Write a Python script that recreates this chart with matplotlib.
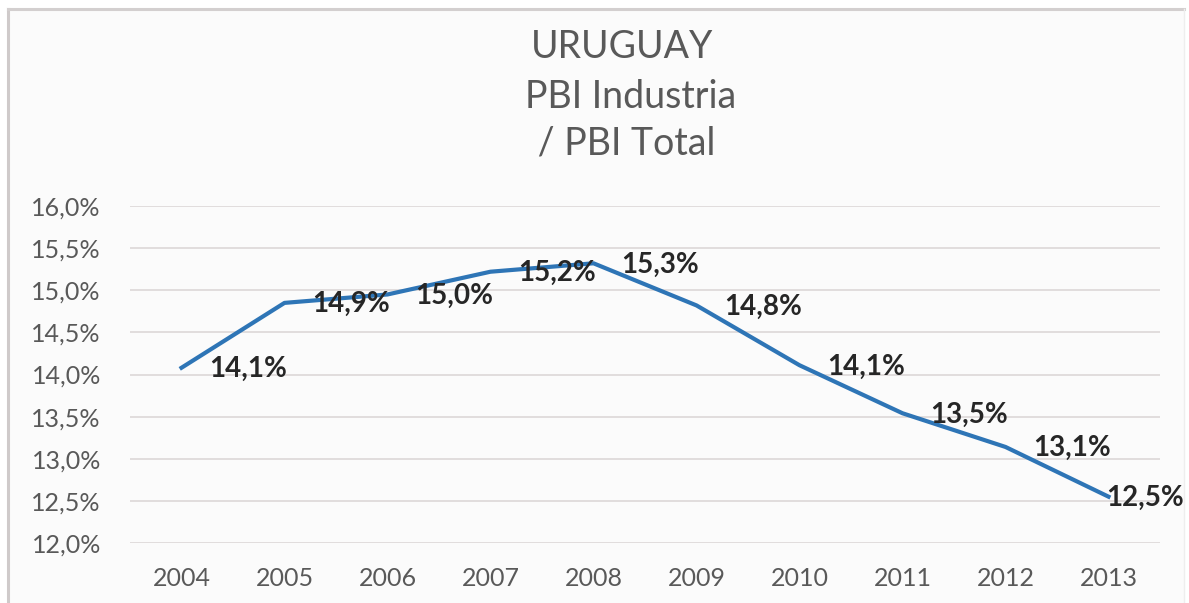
import matplotlib.pyplot as plt
from matplotlib.patches import Rectangle
from matplotlib.lines import Line2D

# data
years = ['2004', '2005', '2006', '2007', '2008', '2009', '2010', '2011', '2012', '2013']
share = [14.08, 14.85, 14.95, 15.22, 15.32, 14.82, 14.11, 13.54, 13.14, 12.55]
labels = ['14,1%', '14,9%', '15,0%', '15,2%', '15,3%', '14,8%', '14,1%', '13,5%', '13,1%', '12,5%']
y_ticks = [12.0, 12.5, 13.0, 13.5, 14.0, 14.5, 15.0, 15.5, 16.0]
y_tick_labels = ['12,0%', '12,5%', '13,0%', '13,5%', '14,0%', '14,5%', '15,0%', '15,5%', '16,0%']

plt.rcParams['font.family'] = ['Lato', 'DejaVu Sans']

fig = plt.figure(figsize=(11.89, 6.03), dpi=100)
fig.patch.set_facecolor('white')

# chart frame (light panel with gray border on left/top)
fig.patches.append(Rectangle((8 / 1189, 0), 1176 / 1189, 594 / 603, transform=fig.transFigure,
                             facecolor='#fbfbfb', edgecolor='none', zorder=-5))
fig.lines.append(Line2D([8 / 1189, 8 / 1189], [0, 594 / 603], transform=fig.transFigure,
                        color='#cfcaca', lw=2.2, zorder=-4))
fig.lines.append(Line2D([8 / 1189, 1184 / 1189], [594 / 603, 594 / 603], transform=fig.transFigure,
                        color='#d3cfcf', lw=2.2, zorder=-4))
fig.lines.append(Line2D([1184 / 1189, 1184 / 1189], [0, 594 / 603], transform=fig.transFigure,
                        color='#eeeeee', lw=1.0, zorder=-4))

ax = fig.add_axes([130 / 1189, 1 - 543 / 603, 1030 / 1189, 337 / 603])
ax.set_facecolor('none')

x = list(range(len(years)))
ax.plot(x, share, color='#2e75b6', lw=3.0, solid_joinstyle='round', zorder=3)

# data labels to the right of each point (last one pulled back to stay inside)
for i, (v, lab) in enumerate(zip(share, labels)):
    dx = 20 if i < len(years) - 1 else -2
    ax.annotate(lab, (i, v), xytext=(dx, -1), textcoords='offset points',
                ha='left', va='center', fontsize=20, fontweight='bold', color='#262626', zorder=4)

ax.set_xlim(-0.5, len(years) - 0.5)
ax.set_ylim(12.0, 16.0)
ax.set_xticks(x)
ax.set_xticklabels(years)
ax.set_yticks(y_ticks)
ax.set_yticklabels(y_tick_labels)
ax.tick_params(axis='both', length=0, labelsize=18, labelcolor='#595959')
ax.tick_params(axis='x', pad=17)
ax.tick_params(axis='y', pad=21)

ax.grid(axis='y', color='#dcd8d8', lw=1.2)
ax.set_axisbelow(True)
for s in ax.spines.values():
    s.set_visible(False)

# title, three lines
fig.text(622 / 1189, 1 - 47 / 603, 'URUGUAY', ha='center', va='center', fontsize=27, color='#595959')
fig.text(631 / 1189, 1 - 97 / 603, 'PBI Industria', ha='center', va='center', fontsize=27, color='#595959')
fig.text(622 / 1189, 1 - 143 / 603, ' / PBI Total', ha='center', va='center', fontsize=27, color='#595959')

fig.savefig('out.png', dpi=100)
